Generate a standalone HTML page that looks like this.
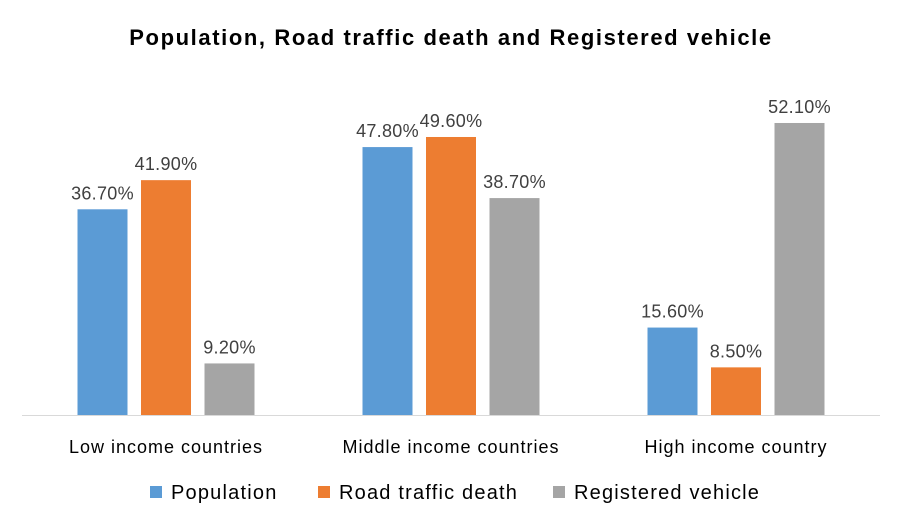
<!DOCTYPE html>
<html><head><meta charset="utf-8"><style>
body{margin:0;background:#fff;}
svg{display:block;font-family:"Liberation Sans",sans-serif;}
</style></head><body>
<svg id="chart" width="902" height="527">
<rect width="902" height="527" fill="#fff"/>
<text x="451" y="45" text-anchor="middle" font-size="22" font-weight="bold" letter-spacing="1.6" fill="#000">Population, Road traffic death and Registered vehicle</text>
<line x1="22" y1="415.5" x2="880" y2="415.5" stroke="#d9d9d9" stroke-width="1"/>
<g id="bars"></g>
<g id="legend"></g>
</svg>
<script>
const categories = ["Low income countries","Middle income countries","High income country"];
const seriesNames = ["Population","Road traffic death","Registered vehicle"];
const population = [36.7, 47.8, 15.6];
const roadDeath = [41.9, 49.6, 8.5];
const vehicles = [9.2, 38.7, 52.1];
const series = [population, roadDeath, vehicles];
const colors = ["#5b9bd5","#ed7d31","#a5a5a5"];
const NS = "http://www.w3.org/2000/svg";
const baseY = 415, pxPer = 5.605;
const yScale = v => baseY - v * pxPer;
const xCenter = i => 166 + i * 285;
const barW = 50, step = 63.5;
const g = document.getElementById("bars");
function mk(tag, attrs){const e=document.createElementNS(NS,tag);for(const k in attrs)e.setAttribute(k,attrs[k]);return e;}
categories.forEach((c,i)=>{
  series.forEach((s,j)=>{
    const x = xCenter(i) + (j-1)*step - barW/2;
    const r = mk("rect",{x:x,y:yScale(s[i]),width:barW,height:baseY-yScale(s[i]),fill:colors[j]});
    
    
    g.appendChild(r);
    const t = mk("text",{x:x+barW/2,y:yScale(s[i])-10,"text-anchor":"middle","font-size":"18","letter-spacing":"0.3",fill:"#404040"});
    t.textContent = s[i].toFixed(2)+"%";
    
    
    g.appendChild(t);
  });
  const l = mk("text",{x:xCenter(i),y:453,"text-anchor":"middle","font-size":"18","letter-spacing":"1",fill:"#000"});
  l.textContent = c;
  
  
  g.appendChild(l);
});
const lg = document.getElementById("legend");
const lx = [150, 318, 553];
seriesNames.forEach((n,j)=>{
  const r = mk("rect",{x:lx[j],y:486,width:12,height:12,fill:colors[j]});
  
  
  lg.appendChild(r);
  const t = mk("text",{x:lx[j]+21,y:499,"font-size":"20","letter-spacing":"1.2",fill:"#000"});
  t.textContent = n;
  
  
  lg.appendChild(t);
});
</script>
</body></html>
